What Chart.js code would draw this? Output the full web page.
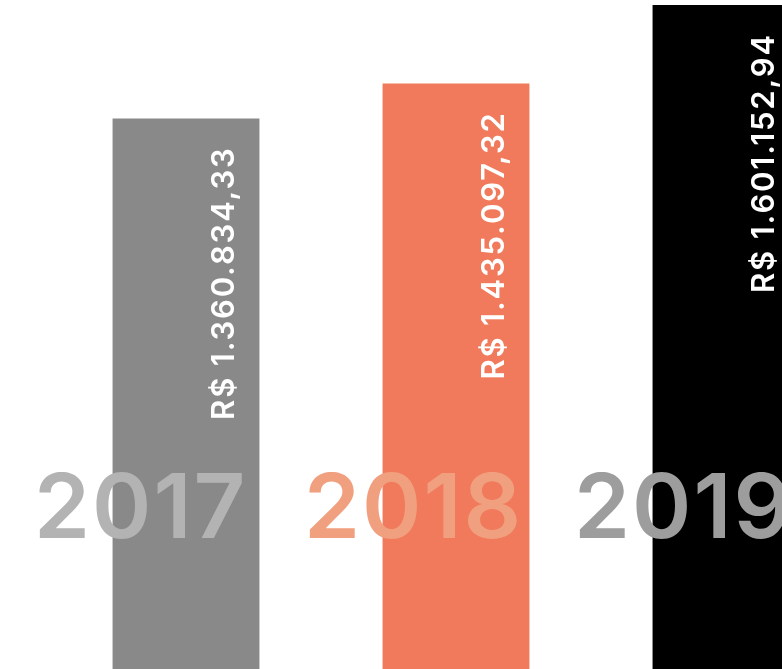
<!DOCTYPE html>
<html>
<head>
<meta charset="utf-8">
<script src="https://cdn.jsdelivr.net/npm/chart.js@4"></script>
<style>
  html, body { margin: 0; padding: 0; background: #fff; overflow: hidden; }
  #wrap { width: 861px; height: 669px; }
</style>
</head>
<body>
<div id="wrap"><canvas id="faturamento" width="861" height="669"></canvas></div>
<script>
// FATURAMENTO POR ANO
var anos = ['2017', '2018', '2019'];
var valores = [1360834.33, 1435097.32, 1601152.94];
var rotulos = ['R$ 1.360.834,33', 'R$ 1.435.097,32', 'R$ 1.601.152,94'];
var coresBarra = ['#898989', '#F07A5B', '#000000'];
var coresAno = ['#B3B3B3', '#F1A07F', '#9D9D9D'];

// textos: anos grandes e valores na vertical
var textos = {
    id: 'textos',
    afterDatasetsDraw: function (chart) {
        var ctx = chart.ctx;
        var meta = chart.getDatasetMeta(0);
        ctx.save();
        ctx.font = '600 90px Inter';
        ctx.letterSpacing = '2px';
        ctx.textAlign = 'left';
        ctx.textBaseline = 'alphabetic';
        meta.data.forEach(function (bar, i) {
            ctx.fillStyle = coresAno[i];
            ctx.fillText(anos[i], bar.x - 152, 538);
        });
        ctx.font = '600 31px Inter';
        ctx.letterSpacing = '1.8px';
        ctx.fillStyle = '#FFFFFF';
        meta.data.forEach(function (bar, i) {
            ctx.save();
            ctx.translate(bar.x + 39, bar.y + 28);
            ctx.rotate(-Math.PI / 2);
            ctx.textAlign = 'right';
            ctx.textBaseline = 'middle';
            ctx.fillText(rotulos[i], 0, 0);
            ctx.restore();
        });
        ctx.restore();
    }
};

var ctx = document.getElementById('faturamento').getContext('2d');
var faturamento = new Chart(ctx, {
    type: 'bar',
    data: {
        labels: anos,
        datasets: [{
            label: 'Faturamento',
            data: valores,
            backgroundColor: coresBarra,
            borderWidth: 0,
            barPercentage: 1,
            categoryPercentage: 0.544
        }]
    },
    options: {
        responsive: false,
        animation: false,
        devicePixelRatio: 1,
        layout: { padding: { left: 51, right: 0, top: 0, bottom: 0 } },
        plugins: {
            legend: { display: false },
            tooltip: { enabled: false }
        },
        scales: {
            x: { display: false },
            y: { display: false, min: 194000, max: 1612000 }
        }
    },
    plugins: [textos]
});
</script>
</body>
</html>
